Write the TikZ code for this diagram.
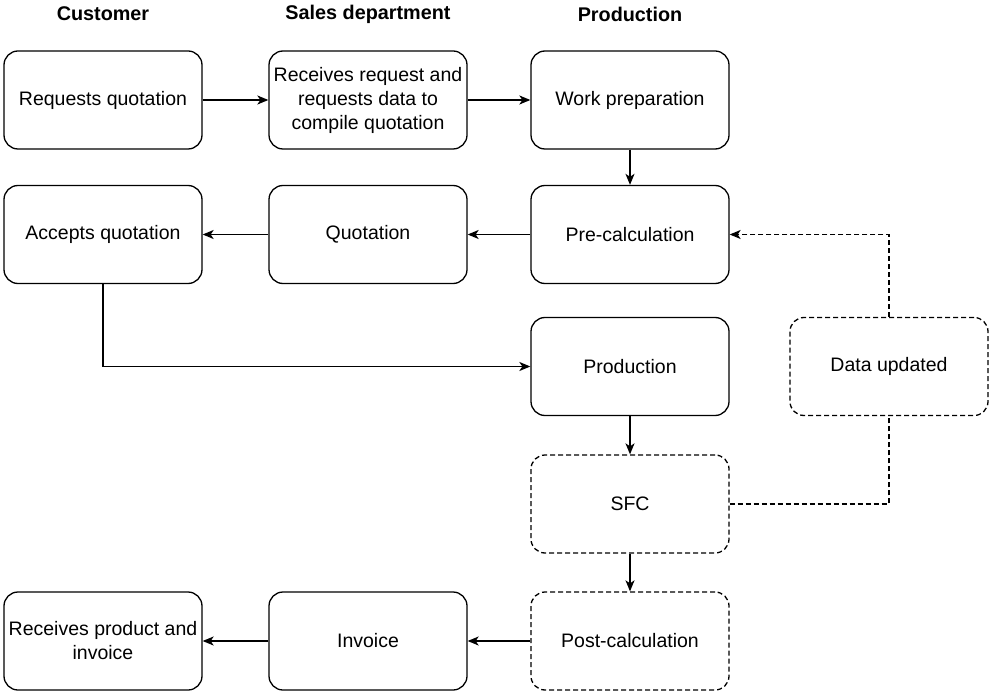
\documentclass[tikz,border=0pt]{standalone}
\usepackage{fontspec}
\setmainfont{Liberation Sans}
\usetikzlibrary{arrows.meta}
\begin{document}
\begin{tikzpicture}[x=1pt,y=-1pt,
  box/.style={draw, line width=1.3pt, rounded corners=14pt, minimum width=198pt, minimum height=98pt, align=center, inner sep=1pt, font=\fontsize{19.5}{24}\selectfont},
  dbox/.style={box, dash pattern=on 5pt off 3pt},
  hdr/.style={font=\fontsize{19.8}{22}\selectfont\bfseries},
  arr/.style={line width=1.3pt, -{Stealth[length=11pt,width=9pt,inset=3pt]}},
  darr/.style={arr, dash pattern=on 5pt off 3pt},
  dline/.style={line width=1.3pt, dash pattern=on 5pt off 3pt}]
\useasboundingbox (0,0) rectangle (990,692);
\node[hdr] (h1) at (103,14) {Customer};
\node[hdr] (h2) at (368,14) {Sales department};
\node[hdr] (h3) at (630,14) {Production};

\node[box] (a1) at (103,100) {Requests quotation};
\node[box] (a2) at (368,100) {Receives request and\\requests data to\\compile quotation};
\node[box] (a3) at (630,100) {Work preparation};

\node[box] (b1) at (103,234.5) {Accepts quotation};
\node[box] (b2) at (368,234.5) {Quotation};
\node[box] (b3) at (630,234.5) {Pre-calculation};

\node[box] (c3) at (630,366.5) {Production};
\node[dbox] (c4) at (889,366.5) {Data updated};

\node[dbox] (d3) at (630,504) {SFC};

\node[box] (e1) at (103,641) {Receives product and\\invoice};
\node[box] (e2) at (368,641) {Invoice};
\node[dbox] (e3) at (630,641) {Post-calculation};

\draw[arr] (a1) -- (a2);
\draw[arr] (a2) -- (a3);
\draw[arr] (a3) -- (b3);
\draw[arr] (b3) -- (b2);
\draw[arr] (b2) -- (b1);
\draw[arr] (b1.south) |- (c3.west);
\draw[arr] (c3) -- (d3);
\draw[arr] (d3) -- (e3);
\draw[arr] (e3) -- (e2);
\draw[arr] (e2) -- (e1);
\draw[dline] (d3.east) -| (c4.south);
\draw[darr] (c4.north) |- (b3.east);
\end{tikzpicture}
\end{document}
